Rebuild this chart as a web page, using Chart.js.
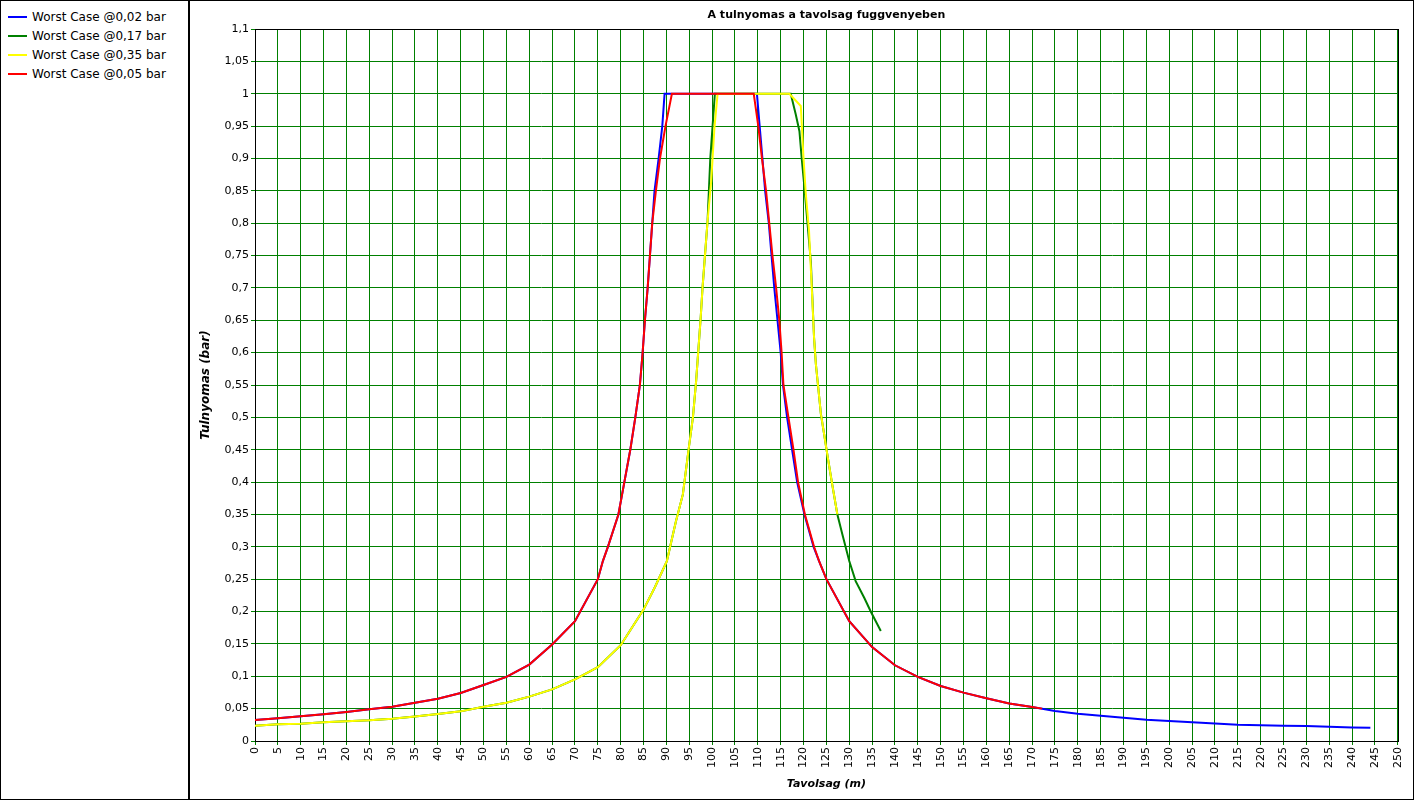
<!DOCTYPE html>
<html>
<head>
<meta charset="utf-8">
<script src="https://cdn.jsdelivr.net/npm/chart.js@4.4.1/dist/chart.umd.min.js"></script>
<style>
  body { margin: 0; background: #fff; }
  .page { position: relative; width: 1414px; height: 800px; box-sizing: border-box; border: 1px solid #000; background: #fff; overflow: hidden; }
  .sep { position: absolute; left: 187px; top: 0; width: 2px; height: 800px; background: #000; }
  .legend { position: absolute; left: 0; top: 7px; font-family: "DejaVu Sans", sans-serif; font-size: 12px; color: #000; }
  .legend .row { position: relative; height: 19px; line-height: 19px; white-space: nowrap; }
  .legend .swatch { position: absolute; left: 7px; top: 8px; width: 19px; height: 2px; }
  .legend .txt { position: absolute; left: 31px; top: 0; }
  #chart { position: absolute; left: 190px; top: 0; }
</style>
</head>
<body>
<div class="page">
  <div class="legend" id="legend"></div>
  <div class="sep"></div>
  <canvas id="chart" width="1222" height="798"></canvas>
</div>
<script>
// series: distance (m) -> overpressure (bar)

const labels = ['Worst Case @0,02 bar', 'Worst Case @0,17 bar', 'Worst Case @0,35 bar', 'Worst Case @0,05 bar']
const colors = ['#0000ff', '#008000', '#ffff00', '#ff0000']

const xBlue = [0,5,10,15,20,25,30,35,40,45,50,55,60,65,70,75,76.1,77.2,79.5,80.8,82.1,83.2,84.2,84.8,85.3,85.9,86.4,86.9,87.4,88.3,89.1,89.6,
  109.8,110.4,111,111.6,112.4,113,113.6,114.3,115,115.5,116.4,117.5,118.6,120.2,122.2,123.4,125,130,135,140,145,150,155,160,165,170,
  175,180,185,190,195,200,205,210,215,220,225,230,235,240,244]
const yBlue = [0.0324,0.035,0.0381,0.0412,0.0448,0.0489,0.053,0.0592,0.0654,0.0741,0.0865,0.099,0.118,0.149,0.185,0.25,0.278,0.3,0.35,0.4,0.45,0.5,0.55,0.6,0.65,0.7,0.75,0.8,0.85,0.9,0.95,1,
  1,0.95,0.9,0.85,0.8,0.75,0.7,0.65,0.6,0.55,0.5,0.45,0.4,0.35,0.3,0.278,0.25,0.185,0.145,0.117,0.099,0.085,0.0747,0.066,0.058,0.0525,
  0.0464,0.042,0.039,0.036,0.033,0.031,0.029,0.027,0.025,0.0245,0.0237,0.023,0.022,0.021,0.0205]

const xGreen = [0,5,10,15,20,25,30,35,40,45,50,55,60,65,70,75,80,85,87.5,90.1,92.1,93.6,94.9,95.8,96.5,97.5,97.9,99.0,99.6,100.1,100.6,
  117.2,118.3,119.1,119.6,120.2,121.6,122.3,122.7,123.8,124.5,125.3,126.4,127.4,128.5,130,131.4,133.3,134.7,136.9]
const yGreen = [0.0237,0.0258,0.0268,0.0288,0.0304,0.0319,0.0345,0.038,0.0417,0.0458,0.053,0.0592,0.0685,0.0798,0.0953,0.114,0.148,0.203,0.238,0.278,0.34,0.381,0.453,0.5,0.556,0.654,0.7,0.803,0.9,0.95,1,
  1,0.968,0.942,0.9,0.855,0.74,0.623,0.582,0.505,0.474,0.438,0.391,0.35,0.319,0.278,0.247,0.221,0.2,0.17]

const xYellow = [0,5,10,15,20,25,30,35,40,45,50,55,60,65,70,75,80,85,87.5,90.1,92.1,93.6,94.9,95.8,96.5,97.5,97.9,99.0,99.8,100.5,101.2,
  116.9,119.4,120,120.5,121.2,121.8,122.3,122.7,123.8,124.5,125.3,126.4,127.4]
const yYellow = [0.0237,0.0258,0.0268,0.0288,0.0304,0.0319,0.0345,0.038,0.0417,0.0458,0.053,0.0592,0.0685,0.0798,0.0953,0.114,0.148,0.203,0.238,0.278,0.34,0.381,0.453,0.5,0.556,0.654,0.7,0.803,0.865,0.947,1,
  1,0.981,0.9,0.845,0.788,0.7,0.623,0.582,0.505,0.474,0.438,0.391,0.35]

const xRed = [0,5,10,15,20,25,30,35,40,45,50,55,60,65,70,75,76.1,77.2,79.5,80.8,82.1,83.2,84.2,84.8,85.3,85.9,86.4,86.9,87.7,88.6,89.8,91.2,
  109.1,110.1,110.9,111.8,112.5,113.2,114,114.7,115.2,115.6,116.7,117.8,118.8,120.3,122.3,123.4,125,130,135,140,145,150,155,160,165,170,172.2]
const yRed = [0.0324,0.035,0.0381,0.0412,0.0448,0.0489,0.053,0.0592,0.0654,0.0741,0.0865,0.099,0.118,0.149,0.185,0.25,0.278,0.3,0.35,0.4,0.45,0.5,0.55,0.6,0.65,0.7,0.75,0.8,0.85,0.9,0.95,1,
  1,0.95,0.9,0.85,0.8,0.75,0.7,0.65,0.6,0.55,0.5,0.45,0.4,0.35,0.3,0.278,0.25,0.185,0.145,0.117,0.099,0.085,0.0747,0.066,0.058,0.0525,0.05]

const xs = [xBlue, xGreen, xYellow, xRed]
const ys = [yBlue, yGreen, yYellow, yRed]
const drawOrder = [3, 2, 1, 0]   // later series on top, like the original

// legend panel on the left
const legendBox = document.getElementById('legend')
labels.forEach((lbl, i) => {
    const row = document.createElement('div')
    row.className = 'row'
    row.innerHTML = '<span class="swatch" style="background:' + colors[i] + '"></span><span class="txt"></span>'
    row.querySelector('.txt').textContent = lbl
    legendBox.appendChild(row)
})

const font = { family: 'DejaVu Sans', size: 11 }

const fmtY = v => String(Math.round(v * 100) / 100).replace('.', ',')

// black frame round the plot area
const frame = {
    id: 'frame',
    beforeDatasetsDraw(chart) {
        const a = chart.chartArea
        const c = chart.ctx
        c.save()
        c.strokeStyle = '#000'
        c.lineWidth = 1
        c.strokeRect(Math.round(a.left) + 0.5, Math.round(a.top) + 0.5, Math.round(a.right - a.left), Math.round(a.bottom - a.top))
        c.restore()
    }
}

new Chart(document.getElementById('chart'), {
    type: 'line',
    data: {
        datasets: labels.map((lbl, i) => ({
            label: lbl,
            data: xs[i].map((x, j) => ({ x: x, y: ys[i][j] })),
            borderColor: colors[i],
            backgroundColor: colors[i],
            borderWidth: 2,
            pointRadius: 0,
            tension: 0,
            fill: false,
            order: drawOrder[i]
        }))
    },
    options: {
        responsive: false,
        animation: false,
        layout: { padding: { left: 0, right: 15, top: 0, bottom: 0 } },
        plugins: {
            legend: { display: false },
            tooltip: { enabled: false },
            title: {
                display: true,
                text: 'A tulnyomas a tavolsag fuggvenyeben',
                fullSize: false,
                color: '#000',
                font: { family: 'DejaVu Sans', size: 11, weight: 'bold' },
                padding: { top: 8, bottom: 6.8 }
            }
        },
        scales: {
            x: {
                type: 'linear',
                min: 0,
                max: 250,
                afterFit: s => { s.height = 58 },
                grid: { color: '#008000', lineWidth: 1, tickLength: 4, tickColor: '#008000' },
                border: { color: '#000', width: 1 },
                ticks: { stepSize: 5, autoSkip: false, minRotation: 90, maxRotation: 90, padding: 2, color: '#000', font: font },
                title: {
                    display: true,
                    text: 'Tavolsag (m)',
                    color: '#000',
                    font: { family: 'DejaVu Sans', size: 11, weight: 'bold', style: 'italic' },
                    padding: { top: 0, bottom: 8 }
                }
            },
            y: {
                min: 0,
                max: 1.1,
                afterFit: s => { s.width = 64 },
                grid: { color: '#008000', lineWidth: 1, tickLength: 4, tickColor: '#008000' },
                border: { color: '#000', width: 1 },
                ticks: { stepSize: 0.05, autoSkip: false, padding: 2, color: '#000', font: font, callback: fmtY },
                title: {
                    display: true,
                    text: 'Tulnyomas (bar)',
                    color: '#000',
                    font: { family: 'DejaVu Sans', size: 12, weight: 'bold', style: 'italic' },
                    padding: { top: 8, bottom: 0 }
                }
            }
        }
    },
    plugins: [frame]
})
</script>
</body>
</html>
